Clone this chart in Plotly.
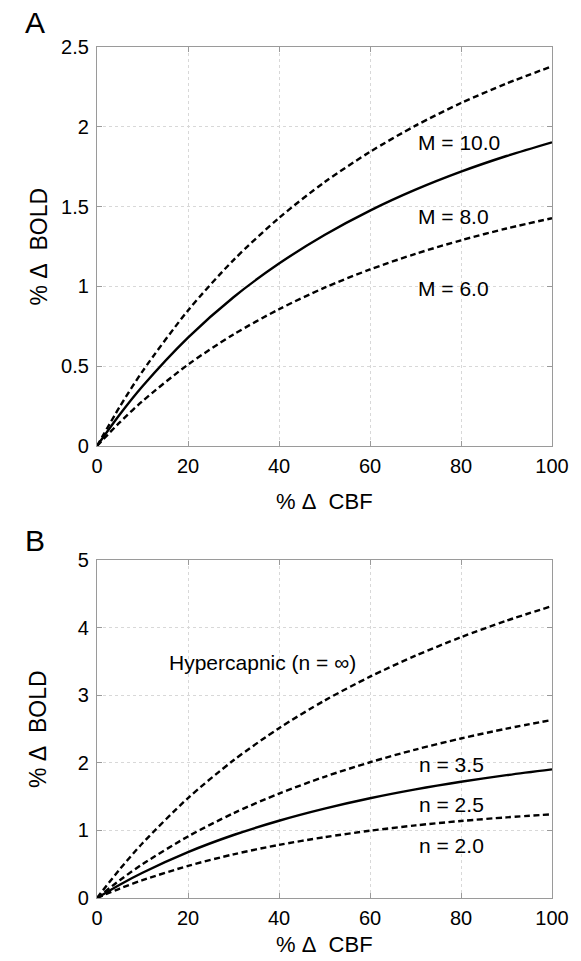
import plotly.graph_objects as go

# ---- data ----
cbf = [0, 5, 10, 20, 30, 40, 50, 60, 70, 80, 90, 100]

# Panel A
bold_m10 = [0, 0.246, 0.468, 0.849, 1.165, 1.429, 1.653, 1.843, 2.007, 2.149, 2.271, 2.379]
bold_m8 = [0, 0.197, 0.374, 0.679, 0.932, 1.143, 1.322, 1.475, 1.606, 1.719, 1.817, 1.903]
bold_m6 = [0, 0.148, 0.281, 0.510, 0.699, 0.857, 0.992, 1.106, 1.204, 1.289, 1.363, 1.427]

# Panel B
bold_hyper = [0, 0.425, 0.810, 1.478, 2.037, 2.512, 2.920, 3.274, 3.584, 3.858, 4.102, 4.319]
bold_n35 = [0, 0.263, 0.500, 0.911, 1.254, 1.545, 1.793, 2.008, 2.196, 2.360, 2.505, 2.634]
bold_n25 = [0, 0.197, 0.374, 0.679, 0.932, 1.143, 1.322, 1.475, 1.606, 1.719, 1.817, 1.903]
bold_n20 = [0, 0.140, 0.264, 0.475, 0.646, 0.786, 0.900, 0.995, 1.074, 1.139, 1.193, 1.238]

x_ticks = [0, 20, 40, 60, 80, 100]
yA_ticks = [0, 0.5, 1, 1.5, 2, 2.5]
yA_labels = ["0", "0.5", "1", "1.5", "2", "2.5"]
yB_ticks = [0, 1, 2, 3, 4, 5]

labels_A = [("M = 10.0", 70, 1.90), ("M = 8.0", 70, 1.44), ("M = 6.0", 70, 0.99)]
labels_B = [("Hypercapnic (n = ∞)", 15.4, 3.48), ("n = 3.5", 70.4, 1.97),
            ("n = 2.5", 70.4, 1.38), ("n = 2.0", 70.4, 0.77)]

FONT = "Liberation Sans, Arial, Helvetica, sans-serif"
DASH = "6px,3.5px"
LW = 2.4

fig = go.Figure()

def add(y, xa, ya, dash):
    fig.add_trace(go.Scatter(x=cbf, y=y, mode="lines", xaxis=xa, yaxis=ya,
                             line=dict(color="black", width=LW, dash=dash, shape="spline", smoothing=0.8),
                             showlegend=False, hoverinfo="skip"))

add(bold_m10, "x", "y", DASH)
add(bold_m8, "x", "y", "solid")
add(bold_m6, "x", "y", DASH)

add(bold_hyper, "x2", "y2", DASH)
add(bold_n35, "x2", "y2", DASH)
add(bold_n25, "x2", "y2", "solid")
add(bold_n20, "x2", "y2", DASH)

axis_common = dict(
    showline=True, linecolor="#9a9a9a", linewidth=1.2, mirror="ticks",
    ticks="inside", ticklen=5, tickcolor="#9a9a9a",
    showgrid=True, gridcolor="#d8d8d8", griddash="dot", gridwidth=1,
    zeroline=False, tickfont=dict(family=FONT, size=20, color="black"),
)
xax = dict(axis_common, ticklabelstandoff=2)
yax = dict(axis_common, ticklabelstandoff=3)

W, H = 581, 961
ml, mr, mt, mb = 97, 19, 47, 63
ph = H - mt - mb
yA_top, yA_bot, yB_top, yB_bot = 47, 446, 560, 898
domA = [(yB_bot - yA_bot) / ph, 1.0]
domB = [0.0, (yB_bot - yB_top) / ph]

fig.update_layout(
    width=W, height=H,
    margin=dict(l=ml, r=mr, t=mt, b=mb),
    paper_bgcolor="white", plot_bgcolor="white",
    font=dict(family=FONT, color="black"),
    xaxis=dict(domain=[0, 1], range=[0, 100], tickvals=x_ticks, anchor="y", **xax),
    yaxis=dict(domain=domA, range=[0, 2.5], tickvals=yA_ticks, ticktext=yA_labels, anchor="x", **yax),
    xaxis2=dict(domain=[0, 1], range=[0, 100], tickvals=x_ticks, anchor="y2", **xax),
    yaxis2=dict(domain=domB, range=[0, 5], tickvals=yB_ticks, anchor="x2", **yax),
)

ann = []
for t, x, y in labels_A:
    ann.append(dict(text=t, x=x, y=y, xref="x", yref="y", xanchor="left", yanchor="middle",
                    showarrow=False, font=dict(family=FONT, size=21, color="black")))
for t, x, y in labels_B:
    ann.append(dict(text=t, x=x, y=y, xref="x2", yref="y2", xanchor="left", yanchor="middle",
                    showarrow=False, font=dict(family=FONT, size=21, color="black")))

for xr, yr, letter, lshift, tshift in [("x", "y", "A", 25, -55), ("x2", "y2", "B", 20, -46)]:
    # panel letter
    ann.append(dict(text=letter, x=0, y=1, xref=f"{xr} domain", yref=f"{yr} domain",
                    xanchor="center", yanchor="middle", xshift=-62, yshift=lshift,
                    showarrow=False, font=dict(family=FONT, size=30, color="black")))
    # x title
    ann.append(dict(text="%\u00a0Δ\u00a0 CBF", x=0.5, y=0, xref=f"{xr} domain", yref=f"{yr} domain",
                    xanchor="center", yanchor="middle", yshift=tshift,
                    showarrow=False, font=dict(family=FONT, size=22, color="black")))
    # y title
    ann.append(dict(text="%\u00a0Δ\u00a0 BOLD", x=0, y=0.5, xref=f"{xr} domain", yref=f"{yr} domain",
                    xanchor="center", yanchor="middle", xshift=-59, textangle=-90,
                    showarrow=False, font=dict(family=FONT, size=23, color="black")))

fig.update_layout(annotations=ann)

fig.write_html("out.html", config={"displayModeBar": False},
               post_script="document.body.style.margin='0';document.body.style.overflow='hidden';")
